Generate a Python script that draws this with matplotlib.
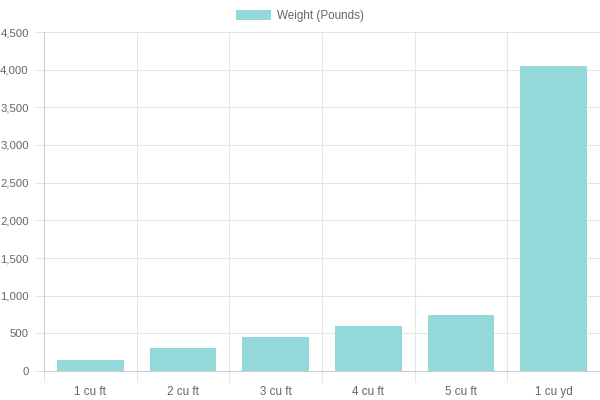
import matplotlib.pyplot as plt
from matplotlib.patches import Patch
from matplotlib.ticker import FuncFormatter

# data
sizes = ["1 cu ft", "2 cu ft", "3 cu ft", "4 cu ft", "5 cu ft", "1 cu yd"]
weights = [150, 300, 450, 600, 750, 4050]
y_ticks = [0, 500, 1000, 1500, 2000, 2500, 3000, 3500, 4000, 4500]

plt.rcParams['font.family'] = ['Liberation Sans', 'DejaVu Sans']

fig = plt.figure(figsize=(6, 4), dpi=100)
ax = fig.add_axes([44 / 600, 1 - 371 / 400, 556 / 600, 339 / 400])

fill = '#93d9d9'
grid = '#e5e5e5'
txt = '#666666'

x = range(len(sizes))
ax.bar(x, weights, width=0.72, color=fill, zorder=2)

ax.set_xlim(-0.5, len(sizes) - 0.5)
ax.set_ylim(0, 4500)
ax.set_yticks(y_ticks)
ax.yaxis.set_major_formatter(FuncFormatter(lambda v, p: f"{int(v):,}"))

# vertical grid lines sit between categories, like chart.js (no line at the right edge)
ax.set_xticks([i - 0.5 for i in range(len(sizes))])
ax.set_xticklabels([])
ax.set_xticks(list(x), minor=True)
ax.set_xticklabels(sizes, minor=True)

ax.grid(True, which='major', color=grid, linewidth=0.75, zorder=0)
ax.tick_params(axis='x', which='major', length=8, color=grid, width=0.75)
ax.tick_params(axis='x', which='minor', length=0, pad=11, labelsize=8.4, labelcolor=txt)
ax.tick_params(axis='y', length=6.5, color=grid, width=0.75, pad=4.5, labelsize=8.2, labelcolor=txt)

for side in ['top', 'right']:
    ax.spines[side].set_visible(False)
for side in ['left', 'bottom']:
    ax.spines[side].set_color('#cccccc')
    ax.spines[side].set_linewidth(0.75)

handle = Patch(facecolor=fill, edgecolor='none')
fig.legend([handle], ["Weight (Pounds)"], loc='center', bbox_to_anchor=(0.5, 1 - 16 / 400),
           frameon=False, fontsize=8.4, labelcolor=txt, handlelength=3.0, handleheight=1.0,
           handletextpad=0.5)

fig.savefig("out.png", dpi=100)
